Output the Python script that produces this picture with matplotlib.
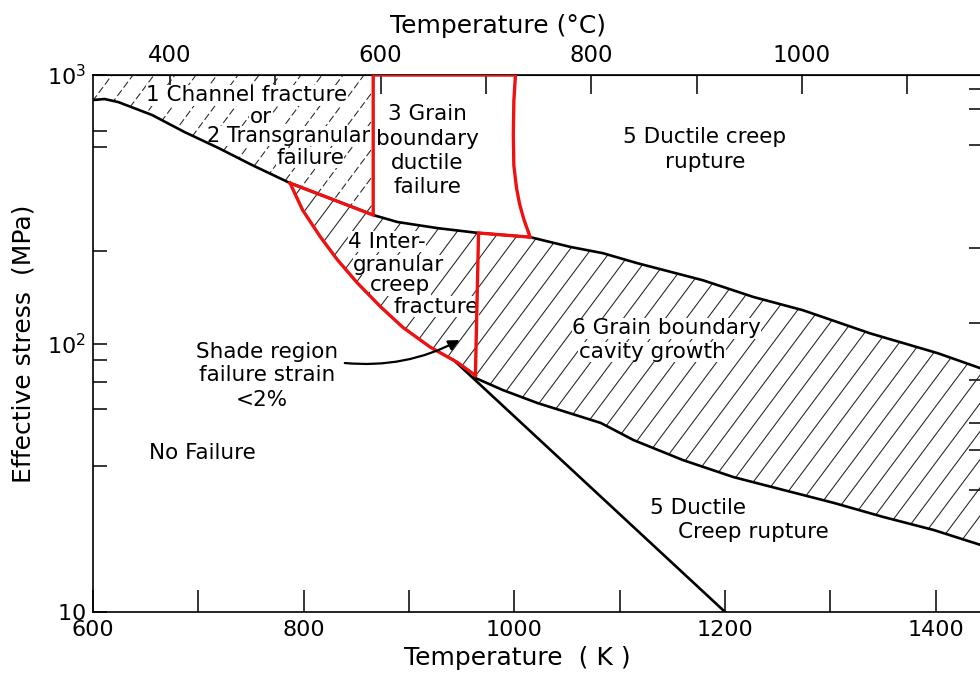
import numpy as np
import matplotlib
matplotlib.use("Agg")
import matplotlib.pyplot as plt
from matplotlib.patches import Polygon
from matplotlib.collections import LineCollection

# black upper boundary (K, MPa)
curve_a_K = [600, 611, 624, 656, 687, 719, 751, 787, 866, 889, 927, 966, 1015, 1053, 1084, 1117, 1179, 1227, 1274, 1338, 1402, 1442]
curve_a_S = [807, 814, 793, 710, 613, 535, 462, 396, 301, 283.5, 269, 258, 249, 229, 217, 199, 172, 149, 133, 109, 92, 81]

# black lower boundary of region 6
curve_b_K = [961, 989, 1022, 1082, 1113, 1160, 1208, 1255, 1303, 1350, 1398, 1442]
curve_b_S = [75, 67.1, 60, 50.6, 43.7, 36.8, 31.8, 28.5, 25.5, 22.6, 20.2, 17.8]

# straight black line down to the bottom axis
line_c_K = [942, 1200]
line_c_S = [87, 10]

# red boundary of region 4 (vertex -> bottom)
red_curve_K = [787, 799, 816, 832, 851, 873, 894, 920, 946, 963]
red_curve_S = [396, 314, 249, 205, 168, 137, 115, 97, 85, 76]

# red outline: vertex -> box 3 -> vertical down
red_box_K = [787, 866, 866, 1001, 999.5, 999, 999.5, 1002, 1005, 1009, 1015, 966, 963]
red_box_S = [396, 301, 1000, 1000, 800, 600, 460, 380, 330, 290, 249, 258, 76]

xmin, xmax = 600, 1442
ymin, ymax = 10, 1000

fig = plt.figure(figsize=(9.8, 6.79), dpi=100)
ax = fig.add_axes([0.0949, 0.0987, 1.0 - 0.0949, 0.7908])
ax.set_yscale('log')
ax.set_xlim(xmin, xmax)
ax.set_ylim(ymin, ymax)


def hatch(K, S, dashed=False):
    poly = Polygon(np.column_stack([K, S]), closed=True, facecolor='none',
                   edgecolor='none', transform=ax.transData)
    ax.add_patch(poly)
    w, h = fig.get_size_inches()
    slope = 1.34
    step = 0.21
    segs = [[(x0, 0), (x0 + h / slope, h)] for x0 in np.arange(-h / slope, w, step)]
    lc = LineCollection(segs, transform=fig.dpi_scale_trans, colors='#222222',
                        linewidths=0.75, linestyles=(0, (7, 3)) if dashed else 'solid',
                        zorder=1)
    ax.add_collection(lc, autolim=False)
    lc.set_clip_path(poly)


iv = curve_a_K.index(787)
ib = curve_a_K.index(866)
i4 = curve_a_K.index(966)

# region 1: above curve A, left of box 3
r1_K = curve_a_K[:ib + 1] + [866, xmin]
r1_S = curve_a_S[:ib + 1] + [ymax, ymax]
hatch(r1_K, r1_S, dashed=True)

# region 4
r4_K = curve_a_K[iv:i4 + 1] + red_curve_K[::-1]
r4_S = curve_a_S[iv:i4 + 1] + red_curve_S[::-1]
hatch(r4_K, r4_S)

# region 6
r6_K = curve_a_K[i4:] + curve_b_K[::-1]
r6_S = curve_a_S[i4:] + curve_b_S[::-1]
hatch(r6_K, r6_S)

ax.plot(curve_a_K, curve_a_S, color='black', lw=1.9, zorder=3)
ax.plot(curve_b_K, curve_b_S, color='black', lw=1.9, zorder=3)
ax.plot(line_c_K, line_c_S, color='black', lw=1.9, zorder=3)
ax.plot(red_curve_K, red_curve_S, color='#ee1111', lw=2.4, zorder=4, solid_joinstyle='miter')
ax.plot(red_box_K, red_box_S, color='#ee1111', lw=2.4, zorder=4, solid_joinstyle='miter')

fs = 15.5
kw = dict(fontsize=fs, va='center', color='black', zorder=2)
# texts sitting on hatching get a white backing, like the breaks in the original
wb = dict(facecolor='white', edgecolor='none', pad=0.3)
ax.text(746, 840, '1 Channel fracture', ha='center', bbox=wb, **kw)
ax.text(759, 700, 'or', ha='center', bbox=wb, **kw)
ax.text(786, 593, '2 Transgranular', ha='center', bbox=wb,
        **{**kw, 'fontsize': 15})
ax.text(806, 491, 'failure', ha='center', bbox=wb, **kw)

ax.text(917, 716, '3 Grain', ha='center', **kw)
ax.text(917, 578, 'boundary', ha='center', **kw)
ax.text(917, 470, 'ductile', ha='center', **kw)
ax.text(917, 383, 'failure', ha='center', **kw)

ax.text(1181, 588, '5 Ductile creep', ha='center', **kw)
ax.text(1181, 474, 'rupture', ha='center', **kw)

ax.text(842, 239, '4 Inter-', ha='left', bbox=wb, **kw)
ax.text(847, 196, 'granular', ha='left', bbox=wb, **kw)
ax.text(863, 165, 'creep', ha='left', bbox=wb, **kw)
ax.text(885, 137, 'fracture', ha='left', bbox=wb, **kw)

ax.text(1055, 114, '6 Grain boundary', ha='left', bbox=wb, **kw)
ax.text(1061, 93, 'cavity growth', ha='left', bbox=wb, **kw)

ax.text(765, 93, 'Shade region', ha='center', **kw)
ax.text(765, 76.3, 'failure strain', ha='center', **kw)
ax.text(760, 61.6, '<2%', ha='center', **kw)

ax.text(704, 39.1, 'No Failure', ha='center', **kw)

ax.text(1129, 24.4, '5 Ductile', ha='left', **kw)
ax.text(1155, 19.9, 'Creep rupture', ha='left', **kw)

ax.annotate('', xy=(948, 103), xytext=(839, 84.6),
            arrowprops=dict(arrowstyle='-|>', color='black', lw=1.6,
                            mutation_scale=16, connectionstyle='arc3,rad=0.15',
                            shrinkA=0, shrinkB=0), zorder=5)

# axes styling
for side in ['left', 'bottom', 'top']:
    ax.spines[side].set_linewidth(1.2)
ax.spines['right'].set_visible(False)

ax.set_xticks([600, 800, 1000, 1200, 1400])
ax.set_xticks([700, 900, 1100, 1300], minor=True)
ax.set_yticks([10, 100, 1000])
ax.set_yticklabels([r'$10$', r'$10^2$', r'$10^3$'])
ax.set_yticks([620, 540, 222, 87, 72, 57, 35], minor=True)
ax.yaxis.set_minor_formatter(matplotlib.ticker.NullFormatter())
ax.tick_params(axis='x', which='both', direction='in', length=16, width=1.1,
               labelsize=16, pad=6, top=False)
ax.tick_params(axis='y', which='major', direction='in', length=10, width=1.1,
               labelsize=16, pad=5, right=False)
ax.tick_params(axis='y', which='minor', direction='in', length=10, width=1.1, right=False)

secax = ax.secondary_xaxis('top', functions=(lambda k: k - 273, lambda c: c + 273))
secax.set_xticks([400, 600, 800, 1000])
secax.set_xticks([500, 700, 900, 1100], minor=True)
secax.tick_params(which='both', direction='in', length=14, width=1.1, labelsize=16.5, pad=6)
secax.set_xlabel('Temperature (°C)', fontsize=18, labelpad=8)
secax.xaxis.label.set_x(0.457)

# right-side tick marks (spine cut off at image edge)
rax = ax.secondary_yaxis('right')
rax.set_yticks([887, 747, 549, 227, 119, 73, 50.6, 40, 28.5])
rax.yaxis.set_minor_locator(matplotlib.ticker.NullLocator())
rax.set_yticklabels([])
rax.tick_params(direction='in', length=8, width=1.1)
rax.spines['right'].set_visible(False)

ax.set_xlabel('Temperature  ( K )', fontsize=18, labelpad=4)
ax.xaxis.label.set_x(0.478)
ax.set_ylabel('Effective stress  (MPa)', fontsize=18, labelpad=8)

fig.savefig('out.png', dpi=100)
